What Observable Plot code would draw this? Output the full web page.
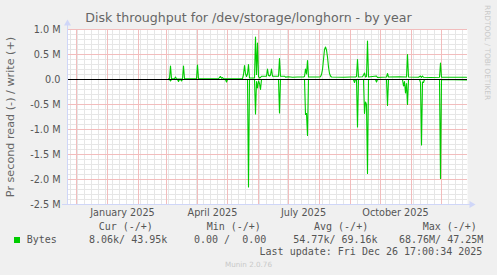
<!DOCTYPE html>
<html><head><meta charset="utf-8">
<script src="https://cdn.jsdelivr.net/npm/d3@7"></script>
<script src="https://cdn.jsdelivr.net/npm/@observablehq/plot@0.6"></script>
<style>
body{margin:0;background:#f0f0f0;}
#c{position:relative;width:497px;height:275px;background:#f0f0f0;overflow:hidden;font-family:"DejaVu Sans";}
#c svg{position:absolute;left:0;top:0;}
.t{position:absolute;white-space:pre;}
.m{font-family:"DejaVu Sans Mono";font-size:10px;color:#555;line-height:12px;}
</style></head><body><div id="c"></div>
<script>
const title = "Disk throughput for /dev/storage/longhorn - by year";
const yLabel = "Pr second read (-) / write (+)";
const watermark = "RRDTOOL / TOBI OETIKER";
const version = "Munin 2.0.76";
const yTicks = [1.0e6, 0.5e6, 0, -0.5e6, -1.0e6, -1.5e6, -2.0e6, -2.5e6];
const xLabelDates = ["2025-01-16","2025-04-16","2025-07-16","2025-10-16"];
const xLabels = ["January 2025","April 2025","July 2025","October 2025"];

// write (+), bytes per second, daily samples
const writeDates = ["2025-03-03","2025-03-04","2025-03-05","2025-03-06","2025-03-09","2025-03-10","2025-03-11","2025-03-12","2025-03-17","2025-03-18","2025-03-19","2025-03-31","2025-04-01","2025-04-02","2025-04-22","2025-04-23","2025-04-24","2025-04-25","2025-04-26","2025-04-27","2025-05-16","2025-05-17","2025-05-18","2025-05-19","2025-05-20","2025-05-21","2025-05-22","2025-05-23","2025-05-28","2025-05-29","2025-05-30","2025-05-31","2025-06-01","2025-06-02","2025-06-03","2025-06-04","2025-06-09","2025-06-10","2025-06-11","2025-06-12","2025-06-13","2025-06-14","2025-06-15","2025-06-21","2025-06-22","2025-06-23","2025-06-27","2025-06-28","2025-07-01","2025-07-05","2025-07-10","2025-07-16","2025-07-17","2025-07-18","2025-07-19","2025-07-20","2025-07-21","2025-07-31","2025-08-02","2025-08-03","2025-08-04","2025-08-05","2025-08-06","2025-08-07","2025-08-08","2025-08-09","2025-08-10","2025-08-11","2025-08-12","2025-08-13","2025-08-25","2025-09-01","2025-09-06","2025-09-07","2025-09-08","2025-09-09","2025-09-13","2025-09-14","2025-09-15","2025-09-16","2025-09-17","2025-09-18","2025-09-19","2025-09-27","2025-09-28","2025-10-07","2025-10-08","2025-10-09","2025-10-20","2025-10-27","2025-10-28","2025-10-29","2025-11-08","2025-11-10","2025-11-11","2025-11-12","2025-11-13","2025-11-20","2025-11-29","2025-11-30","2025-12-01","2025-12-10","2025-12-26"];
const writeValues = [15e3,15e3,270e3,15e3,15e3,50e3,10e3,10e3,15e3,270e3,15e3,15e3,290e3,15e3,15e3,40e3,60e3,25e3,40e3,15e3,15e3,100e3,280e3,120e3,60e3,110e3,300e3,30e3,30e3,850e3,100e3,730e3,60e3,30e3,40e3,65e3,66e3,210e3,80e3,70e3,90e3,210e3,66e3,66e3,420e3,66e3,66e3,48e3,55e3,45e3,50e3,50e3,60e3,210e3,110e3,380e3,50e3,50e3,55e3,100e3,200e3,400e3,600e3,650e3,590e3,450e3,250e3,120e3,70e3,50e3,45e3,50e3,50e3,60e3,400e3,50e3,55e3,90e3,130e3,50e3,60e3,770e3,50e3,70e3,40e3,50e3,120e3,50e3,55e3,50e3,500e3,50e3,45e3,70e3,40e3,70e3,45e3,40e3,45e3,330e3,45e3,45e3,44e3];

// read (-), bytes per second, graphed below zero
const readDates = ["2025-03-03","2025-03-04","2025-03-05","2025-03-06","2025-03-12","2025-03-13","2025-03-14","2025-03-15","2025-03-16","2025-03-17","2025-04-29","2025-04-30","2025-05-01","2025-05-21","2025-05-22","2025-05-23","2025-05-28","2025-05-29","2025-05-30","2025-05-31","2025-06-01","2025-06-02","2025-06-03","2025-06-04","2025-06-21","2025-06-22","2025-06-23","2025-07-17","2025-07-18","2025-07-19","2025-07-20","2025-07-21","2025-09-04","2025-09-05","2025-09-06","2025-09-07","2025-09-08","2025-09-09","2025-09-14","2025-09-15","2025-09-16","2025-09-17","2025-09-18","2025-09-19","2025-09-26","2025-09-27","2025-09-28","2025-10-07","2025-10-08","2025-10-09","2025-10-23","2025-10-24","2025-10-25","2025-10-26","2025-10-27","2025-10-28","2025-10-29","2025-11-09","2025-11-10","2025-11-11","2025-11-12","2025-11-13","2025-11-14","2025-11-29","2025-11-30","2025-12-01","2025-12-26"];
const readValues = [0,0,30e3,0,0,40e3,0,0,30e3,0,0,50e3,0,0,2150e3,0,0,690e3,40e3,170e3,30e3,80e3,200e3,0,0,670e3,0,0,700e3,680e3,1120e3,0,0,60e3,0,0,950e3,0,0,680e3,450e3,500e3,1880e3,0,0,50e3,0,0,520e3,0,0,130e3,40e3,270e3,80e3,500e3,0,0,60e3,1310e3,50e3,60e3,0,0,1980e3,0,8e3];

const legendHeaders = ["Cur (-/+)","Min (-/+)","Avg (-/+)","Max (-/+)"];
const legendSeries = "Bytes";
const legendValues = ["8.06k/ 43.95k","0.00 /  0.00","54.77k/ 69.16k","68.76M/ 47.25M"];
const lastUpdate = "Last update: Fri Dec 26 17:00:34 2025";

const parse = d3.utcParse("%Y-%m-%d");
const write = writeDates.map((d, i) => ({date: parse(d), value: writeValues[i]}));
const read = readDates.map((d, i) => ({date: parse(d), value: -readValues[i]}));
const start = new Date("2024-11-22T00:00:00Z");
const end = new Date("2025-12-27T00:00:00Z");
const months = d3.utcMonth.range(start, end);
const weeks = d3.utcMonday.range(start, end);
const minorY = d3.range(-25, 11).filter(i => i % 5 !== 0).map(i => i * 1e5);
const green = "#00cc00";
const axisColor = "#cfd6f8";

const chart = Plot.plot({
  width: 497, height: 220,
  marginLeft: 67, marginRight: 30, marginTop: 29, marginBottom: 16,
  style: {background: "transparent", fontFamily: "DejaVu Sans", fontSize: "9.7px", color: "#666"},
  x: {type: "utc", domain: [start, end]},
  y: {domain: [-2.5e6, 1.0e6]},
  marks: [
    Plot.frame({fill: "white", stroke: "none"}),
    Plot.ruleY(minorY, {stroke: "#e6e6e6", strokeWidth: 1}),
    Plot.ruleX(weeks, {stroke: "#e6e6e6", strokeWidth: 1}),
    Plot.ruleY(yTicks, {stroke: "#f2bdbd", strokeWidth: 1}),
    Plot.ruleX(months, {stroke: "#f2bdbd", strokeWidth: 1}),
    Plot.line(read, {x: "date", y: "value", stroke: green, strokeWidth: 1.1}),
    Plot.line(write, {x: "date", y: "value", stroke: green, strokeWidth: 1.1}),
    Plot.ruleY([0], {stroke: "black"}),
    Plot.ruleX([start], {stroke: axisColor, insetTop: -5}),
    Plot.ruleY([-2.5e6], {stroke: axisColor, insetLeft: -5, insetRight: -3}),
    Plot.dot([start], {x: d => d, y: () => 1.0e6, symbol: "triangle", r: 2.6, fill: axisColor, dy: -6}),
    Plot.dot([end], {x: d => d, y: () => -2.5e6, symbol: "triangle", r: 2.6, fill: axisColor, rotate: 90, dx: 4}),
    Plot.axisY({ticks: yTicks, tickSize: 0, tickPadding: 7, label: null, fill: "#555",
      tickFormat: d => d === 0 ? "0.0" : (d / 1e6).toFixed(1) + " M"}),
    Plot.axisX({ticks: xLabelDates.map(parse), tickSize: 0, tickPadding: 5, label: null, fill: "#555",
      tickFormat: (d, i) => xLabels[i]}),
    Plot.text([yLabel], {text: d => d, frameAnchor: "left", textAnchor: "middle", rotate: -90, dx: -57, fontSize: 11.2, fill: "#666"})
  ]
});

const c = document.getElementById("c");
c.appendChild(chart);
function add(txt, css, cls) {
  const el = document.createElement("div");
  el.className = "t" + (cls ? " " + cls : "");
  el.textContent = txt;
  Object.assign(el.style, css);
  c.appendChild(el);
  return el;
}
add(title, {left: "0px", top: "11.8px", width: "497px", textAlign: "center", fontSize: "12.6px", lineHeight: "12.6px", color: "#666"});
add(watermark, {left: "483px", top: "5px", fontSize: "7.4px", lineHeight: "9px", color: "#c9c9c9", writingMode: "vertical-rl"});
const headerX = [98.7, 206.7, 314, 422.7];
const valueX = [89, 194, 293.3, 399];
legendHeaders.forEach((h, i) => add(h, {left: headerX[i] + "px", top: "221px"}, "m"));
add("", {left: "14px", top: "237px", width: "6px", height: "6px", background: green});
add(legendSeries, {left: "26.7px", top: "233.8px"}, "m");
legendValues.forEach((v, i) => add(v, {left: valueX[i] + "px", top: "233.8px"}, "m"));
add(lastUpdate, {right: "14.7px", top: "245.5px"}, "m");
add(version, {left: "0px", width: "497px", textAlign: "center", top: "260.6px", fontSize: "7.2px", lineHeight: "7.2px", color: "#c9c9c9"});
</script></body></html>
